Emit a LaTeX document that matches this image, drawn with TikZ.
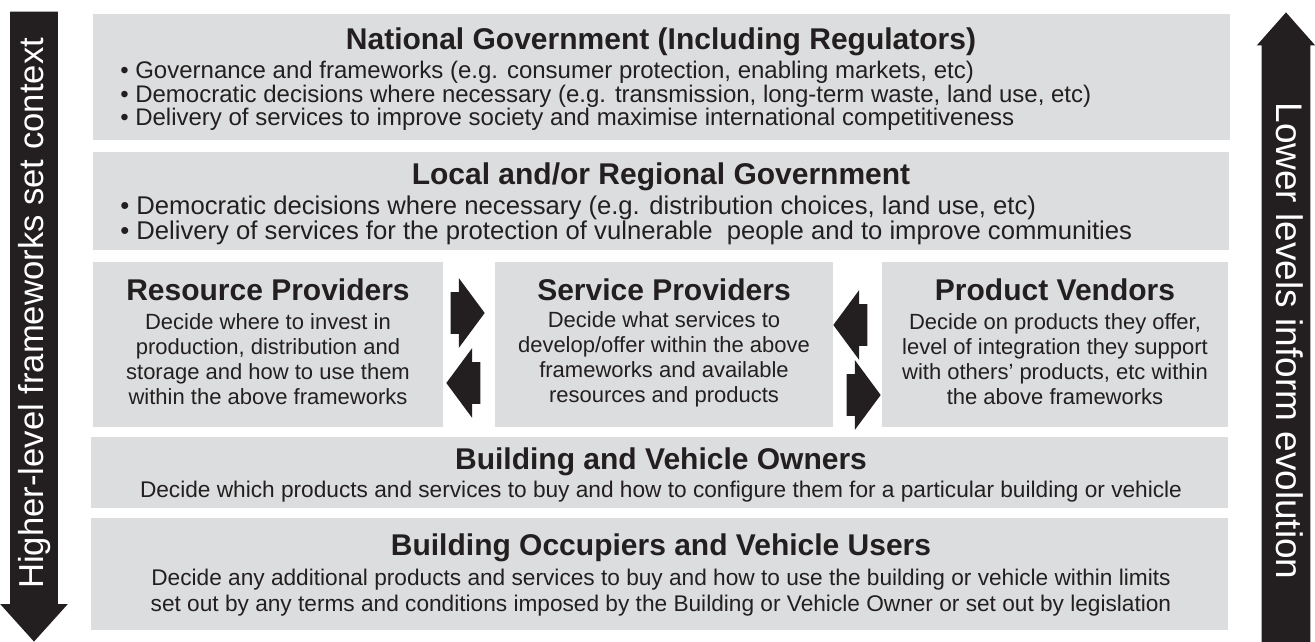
\documentclass[tikz,border=0pt]{standalone}
\usepackage{fontspec}
\setmainfont{Liberation Sans}
\usetikzlibrary{positioning,fit,shapes.arrows}
\definecolor{panelgrey}{HTML}{DCDDDE}
\definecolor{inkblack}{HTML}{231F20}
\tikzset{
  panel/.style={fill=panelgrey, inner sep=0pt},
  head/.style={font=\fontsize{22.5}{27}\selectfont\bfseries, text=inkblack, inner sep=0pt},
  bullets/.style={font=\fontsize{18}{16.5}\selectfont, text=inkblack, align=left, inner sep=0pt},
  body/.style={font=\fontsize{16.5}{18.75}\selectfont, text=inkblack, align=center, inner sep=0pt},
  bigarrow/.style={single arrow, fill=inkblack, text=white, inner xsep=0pt, shape border rotate=180, minimum height=472.5pt},
  trade/.style={single arrow, fill=inkblack, inner xsep=0pt, inner ysep=15.375pt, minimum height=25.5pt, minimum width=51.75pt, single arrow head extend=10.5pt, single arrow tip angle=107},
}
\begin{document}
\begin{tikzpicture}[x=0.75pt,y=-0.75pt]
\useasboundingbox (0,0) rectangle (1315,642);

\node[panel, fit={(93,14) (1230,140)}] (natgov) {};
\node[head] (natgovhead) at (661,42) {National Government (Including Regulators)};
\node[bullets, anchor=west] (natgovlist) at (120,96) {• Governance and frameworks (e.g. consumer protection, enabling markets, etc)\\
• Democratic decisions where necessary (e.g. transmission, long-term waste, land use, etc)\\
• Delivery of services to improve society and maximise international competitiveness};

\node[panel, fit={(93,152) (1229,250)}] (localgov) {};
\node[head] (localgovhead) at (661,177) {Local and/or Regional Government};
\node[bullets, anchor=west, font=\fontsize{19.25}{17.25}\selectfont] (localgovlist) at (120,220) {• Democratic decisions where necessary (e.g. distribution choices, land use, etc)\\
• Delivery of services for the protection of vulnerable\ \ people and to improve communities};

\node[panel, fit={(93,262) (443,427)}] (resprov) {};
\node[panel, fit={(495,262) (833,427)}] (servprov) {};
\node[panel, fit={(882,262) (1228,427)}] (prodvend) {};
\node[head] (resprovhead) at (268,290) {Resource Providers};
\node[head] (servprovhead) at (664,290) {Service Providers};
\node[head] (prodvendhead) at (1055,290) {Product Vendors};
\node[body] (resprovtext) at (268,359.5) {Decide where to invest in\\ production, distribution and\\ storage and how to use them\\ within the above frameworks};
\node[body] (servprovtext) at (664,359.5) {Decide what services to\\ develop/offer within the above\\ frameworks and available\\ resources and products};
\node[body] (prodvendtext) at (1055,359.5) {Decide on products they offer,\\ level of integration they support\\ with others’ products, etc within\\ the above frameworks};

\node[trade, anchor=tip] (restoserv) at (485,313) {};
\node[trade, shape border rotate=180, anchor=tip] (servtores) at (446,383) {};
\node[trade, shape border rotate=180, anchor=tip] (vendtoserv) at (833,325) {};
\node[trade, anchor=tip] (servtovend) at (881,395) {};

\node[panel, fit={(91,437) (1228,508)}] (owners) {};
\node[head] (ownershead) at (661,462) {Building and Vehicle Owners};
\node[body, font=\fontsize{17}{19}\selectfont] (ownerstext) at (661,492) {Decide which products and services to buy and how to configure them for a particular building or vehicle};

\node[panel, fit={(91,518) (1228,630)}] (users) {};
\node[head] (usershead) at (661,548) {Building Occupiers and Vehicle Users};
\node[body, font=\fontsize{17}{19.5}\selectfont] (userstext) at (661,593) {Decide any additional products and services to buy and how to use the building or vehicle within limits\\ set out by any terms and conditions imposed by the Building or Vehicle Owner or set out by legislation};

\node[bigarrow, rotate=90, font=\fontsize{26}{30}\selectfont, text height=19pt, text depth=5.5pt, inner ysep=5.375pt, minimum width=50.25pt, single arrow head extend=7.5pt, single arrow tip angle=84, anchor=tip] (context) at (34,642) {Higher-level frameworks set context};
\node[bigarrow, rotate=-90, font=\fontsize{27.75}{32}\selectfont, text height=20.25pt, text depth=5.75pt, inner ysep=5pt, minimum width=43.5pt, single arrow head extend=3.75pt, single arrow tip angle=83, anchor=tip] (evolution) at (1286,12) {Lower levels inform evolution};
\end{tikzpicture}
\end{document}
